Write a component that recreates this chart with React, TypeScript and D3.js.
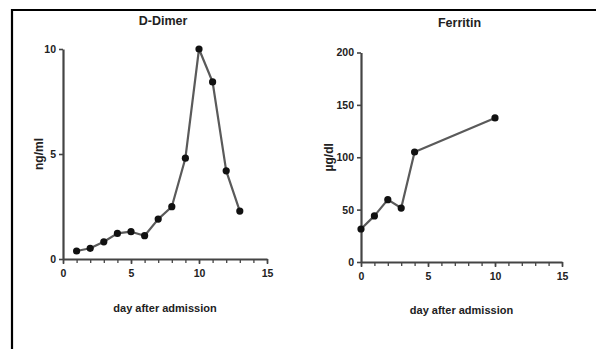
import { useEffect, useRef } from "react";
import * as d3 from "d3";

// D-Dimer (ng/ml) by day after admission
const dimerDays = [1, 2, 3, 4, 5, 6, 7, 8, 9, 10, 11, 12, 13];
const dimerValues = [0.38, 0.51, 0.82, 1.22, 1.3, 1.11, 1.9, 2.49, 4.8, 10.0, 8.43, 4.2, 2.28];
const dimerYTicks = [0, 5, 10];

// Ferritin (µg/dl) by day after admission
const ferritinDays = [0, 1, 2, 3, 4, 10];
const ferritinValues = [31.5, 44, 59.5, 51.5, 105, 137.5];
const ferritinYTicks = [0, 50, 100, 150, 200];

const xMajorTicks = [0, 5, 10, 15];
const xMinorTicks = d3.range(0, 16, 1);

const FONT = "'Liberation Sans', Arial, sans-serif";

type PanelProps = {
    title: string;
    yLabel: string;
    days: number[];
    values: number[];
    yMax: number;
    yTicks: number[];
    left: number;
    right: number;
    top: number;
    bottom: number;
    titleY: number;
    yLabelX: number;
    xLabelY: number;
};

function drawPanel(svg: any, p: PanelProps) {
    const g = svg.append("g");
    const x = d3.scaleLinear().domain([0, 15]).range([p.left, p.right]);
    const y = d3.scaleLinear().domain([0, p.yMax]).range([p.bottom, p.top]);
    const axisColor = "#444";

    // x axis: minor ticks each day, major at 0,5,10,15
    const xa = g.append("g").attr("transform", `translate(0,${p.bottom})`);
    xa.call(d3.axisBottom(x).tickValues(xMinorTicks).tickSize(4).tickFormat(() => ""));
    xa.select(".domain").remove();
    xa.selectAll("line").attr("stroke", axisColor).attr("stroke-width", 1.3);
    const xb = g.append("g").attr("transform", `translate(0,${p.bottom})`);
    xb.call(d3.axisBottom(x).tickValues(xMajorTicks).tickSize(5).tickSizeOuter(0).tickPadding(6));
    xb.select(".domain").attr("stroke", axisColor).attr("stroke-width", 2.2);
    xb.selectAll("line").attr("stroke", axisColor).attr("stroke-width", 1.6);
    xb.selectAll("text")
        .attr("fill", "#222")
        .style("font-family", FONT)
        .style("font-weight", "bold")
        .style("font-size", "10.5px");

    // y axis
    const ya = g.append("g").attr("transform", `translate(${p.left},0)`);
    ya.call(d3.axisLeft(y).tickValues(p.yTicks).tickSize(4).tickSizeOuter(0).tickPadding(3));
    ya.select(".domain").attr("stroke", axisColor).attr("stroke-width", 2.2);
    ya.selectAll("line").attr("stroke", axisColor).attr("stroke-width", 1.6);
    ya.selectAll("text")
        .attr("fill", "#222")
        .style("font-family", FONT)
        .style("font-weight", "bold")
        .style("font-size", "10.5px");

    const data = p.days.map((d, i) => [d, p.values[i]]);
    g.append("path")
        .datum(data)
        .attr("fill", "none")
        .attr("stroke", "#5a5a5a")
        .attr("stroke-width", 2.2)
        .attr("stroke-linejoin", "round")
        .attr("d", d3.line()
            .x((d: any) => x(d[0]))
            .y((d: any) => y(d[1])));
    g.append("g")
        .selectAll("circle")
        .data(data)
        .enter()
        .append("circle")
        .attr("cx", (d: any) => x(d[0]))
        .attr("cy", (d: any) => y(d[1]))
        .attr("r", 3.6)
        .attr("fill", "#111");

    g.append("text")
        .attr("x", (p.left + p.right) / 2 - 2)
        .attr("y", p.titleY)
        .attr("text-anchor", "middle")
        .style("font-family", FONT)
        .style("font-weight", "bold")
        .style("font-size", "12.5px")
        .attr("fill", "#222")
        .text(p.title);
    g.append("text")
        .attr("transform", `translate(${p.yLabelX},${(p.top + p.bottom) / 2}) rotate(-90)`)
        .attr("text-anchor", "middle")
        .style("font-family", FONT)
        .style("font-weight", "bold")
        .style("font-size", "12px")
        .attr("fill", "#222")
        .text(p.yLabel);
    g.append("text")
        .attr("x", (p.left + p.right) / 2)
        .attr("y", p.xLabelY)
        .attr("text-anchor", "middle")
        .style("font-family", FONT)
        .style("font-weight", "bold")
        .style("font-size", "11px")
        .attr("fill", "#222")
        .text("day after admission");
}

const App = () => {
    const ref = useRef<SVGSVGElement>(null);
    useEffect(() => {
        const svg = d3.select(ref.current);
        svg.selectAll("*").remove();
        svg.append("rect").attr("width", 596).attr("height", 349).attr("fill", "#fff");
        // frame: left and top edges
        svg.append("path")
            .attr("d", "M12,349 L12,10 L596,10")
            .attr("fill", "none")
            .attr("stroke", "#000")
            .attr("stroke-width", 2.2);
        drawPanel(svg, {
            title: "D-Dimer", yLabel: "ng/ml",
            days: dimerDays, values: dimerValues, yMax: 10, yTicks: dimerYTicks,
            left: 63, right: 267, top: 49, bottom: 259,
            titleY: 25, yLabelX: 43, xLabelY: 312,
        });
        drawPanel(svg, {
            title: "Ferritin", yLabel: "µg/dl",
            days: ferritinDays, values: ferritinValues, yMax: 200, yTicks: ferritinYTicks,
            left: 361, right: 562, top: 52.5, bottom: 262,
            titleY: 27, yLabelX: 333, xLabelY: 314,
        });
    }, []);
    return (
        <svg ref={ref} width={596} height={349}
            style={{ position: "absolute", left: 0, top: 0, display: "block" }} />
    );
};

export default App;
